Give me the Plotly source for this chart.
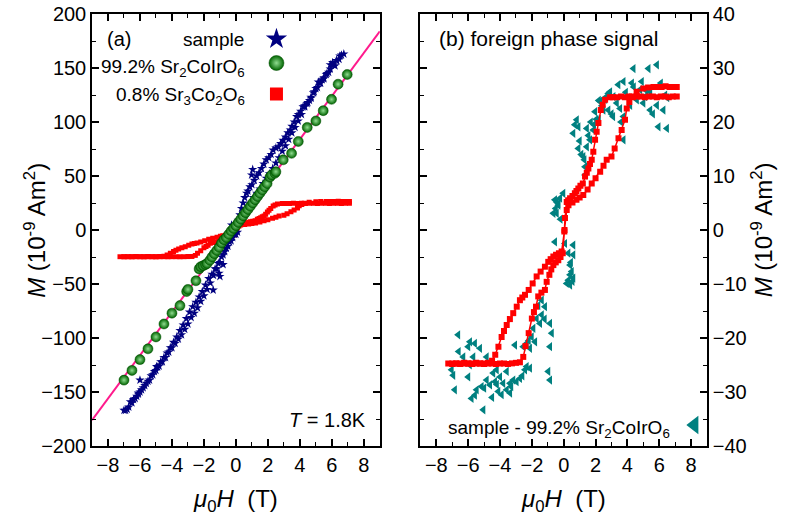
import plotly.graph_objects as go

# ---- data ----
# (a) sample, blue stars
sample_H = [6.75, 6.6, 6.45, 6.3, 6.2, 6.05, 5.9, 5.8, 5.65, 5.5, 5.4, 5.25, 5.15, 5.0, 4.85, 4.7,
            4.6, 4.45, 4.3, 4.2, 4.05, 3.9, 3.8, 3.65, 3.5, 3.4, 3.25, 3.1, 2.95, 2.8, 2.65, 2.5,
            2.33, 2.2, 2.05, 1.9, 1.75, 1.6, 1.45, 1.3, 1.15, 1.0, 0.98, 1.05, 0.875, 0.75, 0.67,
            0.55, 0.45, 0.35, 0.25, 0.15, 0.04, -0.27,
            0.1, 0.3, 0.5, 0.7, 0.9, 1.1, 1.3, 1.5, 1.7, 1.9, 2.1, 2.3, 2.5, 2.7, 2.9, 3.1, 3.3,
            3.5, 3.7, 3.9, 4.1, 4.3, 4.5, 4.7, 4.9, 5.1, 5.3, 5.5, 5.7, 5.9, 6.1, 6.3, 6.5,
            -0.1, -0.3, -0.5, -0.7, -0.9, -1.1, -1.3, -1.5, -1.7, -1.9, -2.1, -2.3, -2.5, -2.7,
            -2.9, -3.1, -3.3, -3.5, -3.7, -3.9, -4.1, -4.3, -4.5, -4.7, -4.9, -5.1, -5.3, -5.5,
            -5.7, -5.9, -6.1, -6.3, -6.5, -6.7, -6.9,
            -6.8, -6.6, -6.4, -6.2, -6.0, -5.8, -5.6, -5.4, -5.2, -5.0, -4.8, -4.6, -4.4, -4.2,
            -4.0, -3.8, -3.6, -3.4, -3.2, -3.0, -2.8, -2.6, -2.4, -2.2, -2.0, -1.8, -1.6, -1.4,
            -1.2, -1.0, -0.8, -0.6, -0.4, -0.2, 0.0,
            -0.8, -1.0, -1.05, -1.42, -6.0, -6.1, -4.96, -7.0]
sample_M = [163, 162, 158, 157, 152, 155, 153, 146, 144, 141, 139, 136, 137, 131, 127, 122,
            120, 117, 115, 114, 110, 107, 105, 100, 96, 92.6, 90, 86, 83, 80, 77, 76,
            74, 70, 67, 65, 61, 57, 53, 50, 46, 42, 51, 56, 40, 36, 34,
            30, 25, 20, 14, 9, 3, 4.6,
            -2, 8, 14, 20, 24, 30, 34, 38, 43, 48, 52, 57, 62, 67, 73, 78, 84,
            90, 95, 101, 107, 114, 118, 123, 128, 132, 136, 140, 145, 149, 153, 157, 161,
            -4, -10, -15, -20, -25, -31, -36, -41, -45, -51, -57, -62, -67, -71,
            -76, -82, -88, -93, -99, -104, -109, -114, -118, -122, -127, -131, -135, -140,
            -144, -148, -152, -156, -160, -164, -167,
            -166, -159, -157, -154, -150, -146, -142, -139, -134, -130, -126, -122, -118, -113,
            -109, -105, -101, -97, -92, -87, -81, -77, -72, -66, -61, -55, -49, -42,
            -36, -30, -23, -17, -11, -7, -4,
            -32, -43, -40, -55.6, -139, -151, -126.5, -167]

# (a) 99.2% Sr2CoIrO6, green spheres
main_H = [-7.0, -6.5, -6.0, -5.5, -5.0, -4.5, -4.0, -3.5, -3.08, -3.0, -2.5, -2.3, -2.2, -2.05,
          -1.9, -1.8, -1.63, -1.5, -1.35, -1.2, -1.05, -0.9, -0.75, -0.6, -0.45, -0.3, -0.15,
          0.0, 0.15, 0.3, 0.45, 0.6, 0.75, 0.9, 1.05, 1.2, 1.35, 1.5, 1.65, 1.8, 1.95, 2.13,
          2.23, 2.44, 2.5, 2.96, 3.48, 3.9, 4.46, 5.0, 5.46, 5.98, 6.39, 6.96]
main_M = [-139, -130, -120, -110, -99, -87, -77, -70, -57, -55, -47, -36, -34, -33,
          -32, -31, -28, -25, -22, -19, -16, -12, -9, -7, -4, -1, 1.5,
          4, 7, 10, 13, 16, 19, 22, 25, 28, 31, 34, 37, 40, 43, 49,
          51, 52.5, 54, 65, 71, 82, 95, 101, 110.5, 121, 135, 144]

# linear fit (pink line)
fit_H = [-9, 9]
fit_M = [-176, 184]

# 0.8% Sr3Co2O6 loop (same data in both panels)
fp_H = [7.1, 6.85, 6.6, 6.35, 6.1, 5.85, 5.6, 5.35, 5.1, 4.85, 4.6, 4.35, 4.1, 3.85, 3.6, 3.35,
        3.1, 2.9, 2.6, 2.45, 2.33, 2.18, 2.07, 1.97, 1.86, 1.76, 1.65, 1.55, 1.45, 1.34, 1.2,
        1.05, 0.92, 0.8, 0.7, 0.55, 0.4, 0.28, 0.19, 0.08, 0.04, -0.13, -0.3, -0.48, -0.65,
        -0.82, -0.97, -1.18, -1.45, -1.7, -1.95, -2.2, -2.43, -2.6, -2.75, -2.95, -3.17, -3.38,
        -3.58, -3.75, -3.9, -4.1, -4.3, -4.5, -4.75, -5.0, -5.25, -5.5, -5.75, -6.0, -6.25,
        -6.5, -6.75, -7.0, -7.25,
        -7.0, -6.75, -6.5, -6.25, -6.0, -5.75, -5.5, -5.25, -5.0, -4.75, -4.5, -4.25, -4.0,
        -3.75, -3.5, -3.25, -3.0, -2.75, -2.54, -2.4, -2.2, -2.0, -1.87, -1.74, -1.6, -1.4,
        -1.18, -1.07, -0.9, -0.78, -0.65, -0.5, -0.34, -0.2, -0.06, 0.05, 0.19, 0.3, 0.55,
        0.8, 1.0, 1.23, 1.5, 1.76, 2.0, 2.29, 2.5, 2.7, 3.0, 3.2, 3.44, 3.64, 3.85, 3.96, 4.12,
        4.28, 4.58, 5.0, 5.3, 5.64, 5.9, 6.15, 6.4, 6.65, 6.9, 7.1]
fp_M = [24.7, 24.7, 24.6, 24.7, 24.7, 24.6, 24.7, 24.7, 24.6, 24.7, 24.7, 24.6, 24.7, 24.6, 24.7,
        24.6, 24.6, 24.6, 24.1, 23.2, 22.2, 19.8, 18.2, 16.7, 14.5, 13.0, 12.2, 11.4, 10.6, 9.9,
        8.6, 8.2, 7.7, 7.2, 6.8, 6.3, 5.9, 5.5, 5.2, 2.2, -0.3, -4.0, -4.3, -4.6, -4.9, -5.4,
        -5.9, -6.8, -7.7, -8.6, -9.9, -11.1, -12.0, -12.5, -13.0, -14.2, -15.4, -16.5, -17.6,
        -18.7, -19.8, -21.6, -23.1, -24.2, -24.6, -24.7, -24.7, -24.6, -24.7, -24.7, -24.6,
        -24.7, -24.7, -24.7, -24.7,
        -24.8, -24.7, -24.8, -24.7, -24.7, -24.8, -24.7, -24.7, -24.8, -24.7, -24.7, -24.8,
        -24.7, -24.7, -24.8, -24.7, -24.6, -24.5, -23.5, -21.5, -19.1, -16.4, -15.2, -14.2,
        -12.3, -11.6, -11.1, -9.6, -8.3, -7.3, -6.5, -6.0, -5.6, -5.0, -4.3, 0.0, 3.7, 4.6,
        5.1, 5.6, 6.0, 6.5, 7.5, 8.6, 9.6, 10.8, 11.9, 13.0, 13.6, 15.1, 17.0, 18.5, 20.4,
        22.5, 23.7, 24.7, 25.6, 26.2, 26.4, 26.5, 26.5, 26.5, 26.6, 26.5, 26.5, 26.5]

# (b) sample - 99.2% Sr2CoIrO6, teal triangles
diff_H = [5.85, 5.32, 4.38, 3.75, 4.28, 3.43, 2.91, 2.8, 3.12, 2.28, 2.49, 1.97, 2.8, 3.33, 3.54,
          3.75, 4.17, 4.59, 5.0, 5.43, 5.85, 6.26, 6.37, 5.43, 5.11, 5.95, 6.48, 3.75, 0.82,
          0.92, 0.6, 1.45, 1.86, 1.65, 1.45, 1.23, 0.92, 1.34, 1.34, -0.55, -0.23, -0.44, -0.03,
          -0.34, -0.44, -0.65, -0.34, -0.55, 0.08, 0.6, 0.29, 0.6, 0.4, 0.5, 0.4, 0.6, 0.29,
          0.19, 0.4, -1.38, -1.18, -1.38, -1.7, -1.49, -1.91, -0.86, -0.75, -2.01, -2.33, -3.06,
          -2.54, -2.12, -1.8, -0.86, -6.63, -5.89, -5.58, -6.0, -5.26, -4.84, -6.31, -5.68,
          -7.04, -6.94, -6.0, -6.84, -5.47, -5.16, -5.79, -5.58, -5.05, -4.84, -4.43, -4.21,
          -4.0, -3.58, -3.8, -4.11, -3.58, -3.37, -2.96, -2.75, -2.43, -2.33, -2.12, -0.97,
          -0.86, -4.63, -4.32, -3.37, -3.17, 2.6, 2.05, 3.0, 4.8, 1.1, 1.7, 2.2,
          2.6, 2.2, 2.4, 3.1, 3.6, 3.9, 4.4, 4.9, 5.2, 6.1, 6.5, 5.6, 1.9, 1.0, 0.7, 1.55,
          1.3, -0.5, -0.2, 0.45, 0.55, -1.6, -1.2, -2.2, -3.3, -4.5, -5.0, -6.6, -5.9, -4.2,
          -3.9, -2.6]
diff_M = [30.6, 29.9, 29.9, 27.5, 27.2, 26.9, 25.6, 25.3, 24.7, 23.8, 22.2, 21.9, 22.2, 23.5, 22.5,
          21.0, 23.1, 24.1, 23.5, 22.2, 23.1, 22.2, 25.0, 25.6, 24.7, 19.1, 18.8, 16.7, 20.4,
          19.1, 17.9, 18.8, 18.5, 16.7, 15.4, 13.6, 15.1, 11.7, 10.2, 5.6, 5.9, 3.1, 6.8,
          4.6, 5.2, 3.1, 4.9, -2.2, -2.5, -2.8, -4.3, -4.6, -6.5, -7.7, -8.3, -8.9, -9.3,
          -9.9, -10.2, -13.0, -14.2, -15.7, -16.4, -17.3, -18.2, -17.3, -19.1, -19.8, -21.0,
          -21.3, -21.6, -21.9, -20.7, -21.6, -19.4, -20.7, -21.0, -21.6, -21.9, -23.5, -23.5,
          -23.5, -25.9, -26.9, -27.2, -29.6, -29.6, -29.0, -31.2, -30.6, -33.3, -27.8, -26.5,
          -25.9, -27.2, -26.2, -28.4, -29.9, -29.6, -28.4, -28.1, -27.5, -25.9, -25.3, -25.6,
          -26.2, -27.8, -28.7, -28.1, -30.2, -27.8, 24.5, 20.5, 21.5, 26.0, 14.0, 20.0, 24.0,
          24.2, 20.5, 23.0, 21.0, 20.0, 25.5, 26.5, 27.5, 25.8, 27.2, 24.5, 21.5, 19.5, 16.5,
          19.5, 17.5, 13.0, 4.0, 2.0, -6.0, -9.5, -14.0, -16.5, -20.5, -29.0, -31.0, -29.3,
          -22.5, -25.0, -28.6, -30.5, -27.0]

NAVY = "#000080"
RED = "#ff0000"
PINK = "#ff1a8c"
TEAL = "#008080"
FONT = "Liberation Sans, Arial, sans-serif"

fig = go.Figure()

# ---- panel (a) ----
fig.add_trace(go.Scatter(x=fit_H, y=fit_M, mode="lines", line=dict(color=PINK, width=2),
                         showlegend=False, xaxis="x", yaxis="y"))
fig.add_trace(go.Scatter(x=fp_H, y=fp_M, mode="markers",
                         marker=dict(symbol="square", size=5, color=RED),
                         showlegend=False, xaxis="x", yaxis="y"))
fig.add_trace(go.Scatter(x=sample_H, y=sample_M, mode="markers",
                         marker=dict(symbol="star", size=7, color=NAVY),
                         showlegend=False, xaxis="x", yaxis="y"))
sphere = dict(symbol="circle", color="#006400",
              gradient=dict(type="radial", color="#8fdc8f"),
              line=dict(color="#004d00", width=0.5))
fig.add_trace(go.Scatter(x=main_H, y=main_M, mode="markers",
                         marker=dict(size=10, **sphere),
                         showlegend=False, xaxis="x", yaxis="y"))

# ---- panel (b) ----
fig.add_trace(go.Scatter(x=diff_H, y=diff_M, mode="markers",
                         marker=dict(symbol="triangle-left", size=8, color=TEAL),
                         showlegend=False, xaxis="x2", yaxis="y2"))
fig.add_trace(go.Scatter(x=fp_H, y=fp_M, mode="lines+markers",
                         line=dict(color=RED, width=1.5),
                         marker=dict(symbol="square", size=6, color=RED),
                         showlegend=False, xaxis="x2", yaxis="y2"))

# legend-only symbols (symbol drawn right of the text, like the original)
fig.add_trace(go.Scatter(x=[None], y=[None], mode="markers", name="",
                         marker=dict(symbol="star", size=16, color=NAVY), legend="legend"))
fig.add_trace(go.Scatter(x=[None], y=[None], mode="markers", name="",
                         marker=dict(size=15, **sphere), legend="legend2"))
fig.add_trace(go.Scatter(x=[None], y=[None], mode="markers", name="",
                         marker=dict(symbol="square", size=13, color=RED), legend="legend3"))
fig.add_trace(go.Scatter(x=[None], y=[None], mode="markers", name="", xaxis="x2", yaxis="y2",
                         marker=dict(symbol="triangle-left", size=16, color=TEAL), legend="legend4"))


def leg(x, y):
    return dict(x=x, y=y, xanchor="center", yanchor="middle", bgcolor="rgba(0,0,0,0)",
                borderwidth=0, font=dict(size=4), itemsizing="trace", itemwidth=30)


axis_common = dict(showgrid=False, zeroline=False, showline=True, linecolor="black",
                   linewidth=1.5, mirror="ticks", ticks="inside", tickwidth=1.5,
                   tickcolor="black", ticklen=7, tickfont=dict(size=20, color="black"),
                   automargin=False, ticklabeloverflow="allow")

fig.update_layout(
    width=789, height=525,
    margin=dict(l=92, r=82, t=14, b=79, autoexpand=False),
    paper_bgcolor="white", plot_bgcolor="white",
    font=dict(family=FONT, color="black"),
    xaxis=dict(domain=[0, 0.468], range=[-9, 9], dtick=2, tick0=0, anchor="y",
               minor=dict(dtick=1, ticks="inside", ticklen=4, tickwidth=1.2, tickcolor="black"),
               **axis_common),
    yaxis=dict(domain=[0, 1], range=[-200, 200], dtick=50, anchor="x",
               minor=dict(dtick=25, ticks="inside", ticklen=4, tickwidth=1.2, tickcolor="black"),
               **axis_common),
    xaxis2=dict(domain=[0.534, 1], range=[-9, 9], dtick=2, tick0=0, anchor="y2",
                minor=dict(dtick=1, ticks="inside", ticklen=4, tickwidth=1.2, tickcolor="black"),
                **axis_common),
    yaxis2=dict(domain=[0, 1], range=[-40, 40], dtick=10, anchor="x2", side="right",
                minor=dict(dtick=5, ticks="inside", ticklen=4, tickwidth=1.2, tickcolor="black"),
                **axis_common),
    legend=leg(0.304, 0.942),
    legend2=leg(0.304, 0.8866),
    legend3=leg(0.304, 0.8148),
    legend4=leg(0.9835, 0.0486),
)

ann = []
def text(x, y, t, size=19, xanchor="left", xref="paper", yref="paper", **kw):
    ann.append(dict(x=x, y=y, text=t, showarrow=False, xref=xref, yref=yref,
                    xanchor=xanchor, yanchor="middle", font=dict(size=size, family=FONT), **kw))

text(0.0211, 0.942, "(a)", size=20)
text(0.2504, 0.942, "sample", xanchor="right")
text(0.2520, 0.875, "99.2% Sr<sub>2</sub>CoIrO<sub>6</sub>", xanchor="right")
text(0.2520, 0.810, "0.8% Sr<sub>3</sub>Co<sub>2</sub>O<sub>6</sub>", xanchor="right")
text(0.4480, 0.060, "<i>T</i> = 1.8K", size=20, xanchor="right")
text(0.5610, 0.944, "(b) foreign phase signal", size=21)
text(0.9430, 0.040, "sample - 99.2% Sr<sub>2</sub>CoIrO<sub>6</sub>", xanchor="right")

# axis titles
text(0.5, -0.125, "<i>μ</i><sub>0</sub><i>H</i>&nbsp;&nbsp;(T)", size=24, xanchor="center", xref="x domain")
text(0.5, -0.125, "<i>μ</i><sub>0</sub><i>H</i>&nbsp;&nbsp;(T)", size=24, xanchor="center", xref="x2 domain")
text(-0.093, 0.5, "<i>M</i> (10<sup>-9</sup> Am<sup>2</sup>)", size=24, xanchor="center", textangle=-90)
text(1.09, 0.5, "<i>M</i> (10<sup>-9</sup> Am<sup>2</sup>)", size=24, xanchor="center", textangle=-90)

fig.update_layout(annotations=ann)

# the page body has a default 8px margin; drop it so the figure sits at the window origin
fig.write_html("out.html", config={"displayModeBar": False},
               post_script="document.body.style.margin='0px';")
